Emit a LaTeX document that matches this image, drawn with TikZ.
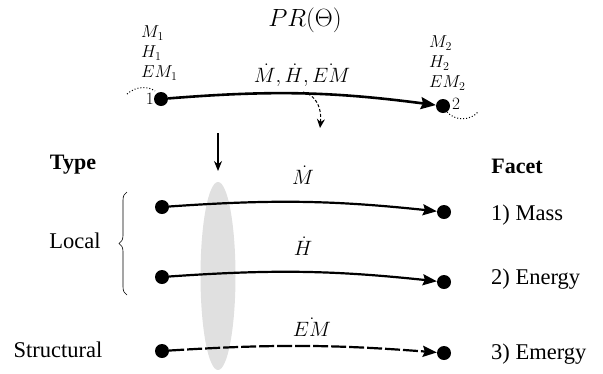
\documentclass[tikz,border=0pt]{standalone}
\usepackage{fontspec}
\setmainfont{Liberation Serif}
\usetikzlibrary{arrows.meta,decorations.pathreplacing,shapes.geometric}
\begin{document}
\begin{tikzpicture}[x=1pt,y=1pt,
  dot/.style={circle,fill=black,inner sep=0pt,minimum size=14pt},
  flow/.style={line width=2.2pt,-{Stealth[length=14pt,width=11pt,inset=2pt]}},
  txt/.style={font=\fontsize{22.5}{27}\selectfont,inner sep=0pt},
  hdr/.style={font=\fontsize{22}{26}\selectfont\bfseries,inner sep=0pt},
  sym/.style={font=\fontsize{17.5}{20}\selectfont,inner sep=0pt},
  lbl/.style={font=\fontsize{20}{24}\selectfont,inner sep=0pt}]
\useasboundingbox (0,0) rectangle (603,-373);
% title
\node[inner sep=0pt,font=\fontsize{33}{38}\selectfont] (title) at (305,-20) {$PR(\Theta)$};
% top flow
\node[dot] (t1) at (161,-99) {};
\node[dot] (t2) at (443,-106) {};
\node[sym,anchor=east] (n1) at (154,-99) {$1$};
\node[sym,anchor=west] (n2) at (452,-104) {$2$};
\node[sym,anchor=west,align=left] (s1) at (141,-53) {$M_1$\\[0pt]$H_1$\\[0pt]$EM_1$};
\node[sym,anchor=west,align=left] (s2) at (429,-63) {$M_2$\\[0pt]$H_2$\\[0pt]$EM_2$};
\node[lbl] (rates) at (302,-75) {$\dot M,\dot H,\dot{EM}$};
\draw[line width=2.6pt,-{Stealth[length=15pt,width=12pt,inset=2pt]}] (t1) to[bend left=6] (t2);
\coordinate (c1a) at (127,-94);
\coordinate (c1b) at (155,-91);
\draw[dotted,line width=1pt] (c1a) .. controls (136,-86) and (148,-86) .. (c1b);
\coordinate (c2a) at (447,-112);
\coordinate (c2b) at (478,-112);
\draw[dotted,line width=1pt] (c2a) .. controls (455,-121) and (470,-121) .. (c2b);
\coordinate (brk) at (303,-92);
\coordinate (brkend) at (320,-128);
\draw[dashed,dash pattern=on 3pt off 2pt,line width=1pt,-{Stealth[length=9pt,width=8pt]}] (brk) .. controls (316,-95) and (322,-108) .. (brkend);
% down arrow and ellipse
\coordinate (da) at (218,-133);
\coordinate (db) at (218,-171);
\draw[line width=1.2pt,-{Stealth[length=10pt,width=8pt]}] (da) -- (db);
\node[ellipse,fill=black!12,minimum width=35pt,minimum height=188pt,inner sep=0pt] (ell) at (218,-276) {};
% headers
\node[hdr] (type) at (73,-165) {Type};
\node[hdr] (facet) at (517,-166) {Facet};
% rows
\node[dot] (a1) at (162,-207) {};
\node[dot] (b1) at (444,-212) {};
\node[dot] (a2) at (162,-277) {};
\node[dot] (b2) at (444,-282) {};
\node[dot] (a3) at (162,-351) {};
\node[dot] (b3) at (444,-353) {};
\draw[flow] (a1) to[bend left=5] (b1);
\draw[flow] (a2) to[bend left=5] (b2);
\draw[flow,dash pattern=on 15pt off 3pt] (a3) to[bend left=4] (b3);
\node[lbl] (l1) at (303,-175) {$\dot M$};
\node[lbl] (l2) at (303,-246) {$\dot H$};
\node[lbl] (l3) at (312,-327) {$\dot{EM}$};
\node[txt,anchor=west] (f1) at (491,-215) {1) Mass};
\node[txt,anchor=west] (f2) at (491,-279) {2) Energy};
\node[txt,anchor=west] (f3) at (491,-354) {3) Emergy};
\node[txt] (local) at (75,-241) {Local};
\node[txt] (struct) at (58,-350) {Structural};
\coordinate (br1) at (127,-192);
\coordinate (br2) at (127,-295);
\draw[decorate,decoration={brace,amplitude=8pt},line width=0.6pt] (br2) -- (br1);
\end{tikzpicture}
\end{document}
